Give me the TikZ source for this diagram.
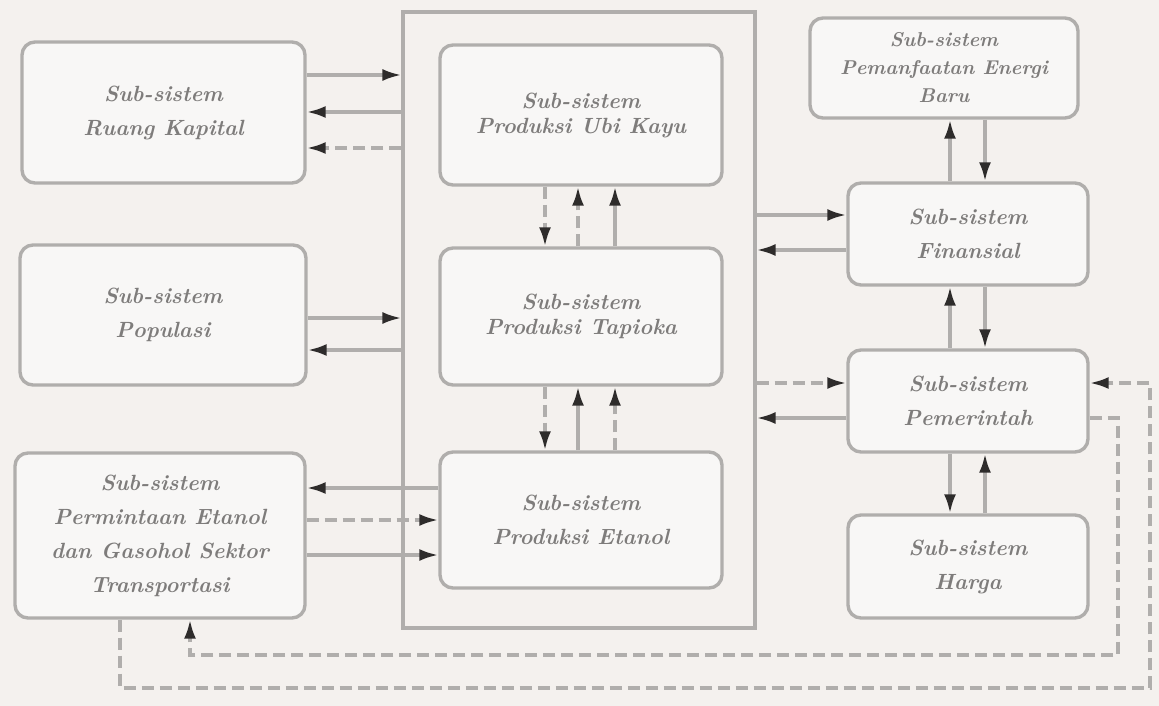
\documentclass[tikz,border=0pt]{standalone}
\usetikzlibrary{arrows.meta,calc}
\definecolor{bg}{HTML}{F4F1EE}
\definecolor{boxfill}{HTML}{F8F7F6}
\definecolor{edge}{HTML}{B0AEAC}
\definecolor{txt}{HTML}{7E7C7B}
\definecolor{tip}{HTML}{2E2C2B}
\tikzset{
  sbox/.style={draw=edge, line width=3.4pt, rounded corners=13pt, fill=boxfill,
    text=txt, font=\fontsize{22}{34}\selectfont\bfseries\itshape, align=center, inner sep=2pt},
  tight/.style={font=\fontsize{22}{25}\selectfont\bfseries\itshape},
  cbox/.style={draw=edge, line width=3.2pt, fill=none},
  conn/.style={draw=edge, line width=3.2pt, -{Latex[length=19pt,width=12pt,color=tip]}},
  dconn/.style={conn, dash pattern=on 12pt off 6pt},
}
\begin{document}
\begin{tikzpicture}[x=1pt,y=-1pt]
\fill[bg] (0,0) rectangle (1159,706);
\useasboundingbox (0,0) rectangle (1159,706);

% container
\node[cbox, minimum width=352pt, minimum height=616pt] (cont) at (579,320) {};

% left boxes
\node[sbox, minimum width=283pt, minimum height=141pt] (rk) at (163.5,112.5) {Sub-sistem\\Ruang Kapital};
\node[sbox, minimum width=286pt, minimum height=140pt] (pop) at (163,315) {Sub-sistem\\Populasi};
\node[sbox, minimum width=290pt, minimum height=165pt] (perm) at (160,535.5) {Sub-sistem\\Permintaan Etanol\\dan Gasohol Sektor\\Transportasi};

% inner boxes
\node[sbox, tight, minimum width=282pt, minimum height=140pt] (uk) at (581,115) {Sub-sistem\\Produksi Ubi Kayu};
\node[sbox, tight, minimum width=282pt, minimum height=137pt] (tap) at (581,316.5) {Sub-sistem\\Produksi Tapioka};
\node[sbox, minimum width=282pt, minimum height=136pt] (et) at (581,520) {Sub-sistem\\Produksi Etanol};

% right boxes
\node[sbox, font=\fontsize{20}{28}\selectfont\bfseries\itshape, minimum width=268pt, minimum height=100pt] (eb) at (944,68) {Sub-sistem\\Pemanfaatan Energi\\Baru};
\node[sbox, minimum width=240pt, minimum height=102pt] (fin) at (968,234) {Sub-sistem\\Finansial};
\node[sbox, minimum width=240pt, minimum height=102pt] (pem) at (968,401) {Sub-sistem\\Pemerintah};
\node[sbox, minimum width=240pt, minimum height=103pt] (har) at (968,566.5) {Sub-sistem\\Harga};

% left side connectors
\draw[conn] (rk.east |- 0,75) -- (cont.west |- 0,75);
\draw[conn] (cont.west |- 0,112) -- (rk.east |- 0,112);
\draw[dconn] (cont.west |- 0,148) -- (rk.east |- 0,148);
\draw[conn] (pop.east |- 0,318) -- (cont.west |- 0,318);
\draw[conn] (cont.west |- 0,350) -- (pop.east |- 0,350);
\draw[conn] (et.west |- 0,488) -- (perm.east |- 0,488);
\draw[dconn] (perm.east |- 0,520) -- (et.west |- 0,520);
\draw[conn] (perm.east |- 0,555) -- (et.west |- 0,555);

% inner vertical connectors
\draw[dconn] (uk.south -| 545,0) -- (tap.north -| 545,0);
\draw[dconn] (tap.north -| 578,0) -- (uk.south -| 578,0);
\draw[conn] (tap.north -| 615,0) -- (uk.south -| 615,0);
\draw[dconn] (tap.south -| 545,0) -- (et.north -| 545,0);
\draw[conn] (et.north -| 578,0) -- (tap.south -| 578,0);
\draw[dconn] (et.north -| 615,0) -- (tap.south -| 615,0);

% container to right boxes
\draw[conn] (cont.east |- 0,215) -- (fin.west |- 0,215);
\draw[conn] (fin.west |- 0,250) -- (cont.east |- 0,250);
\draw[dconn] (cont.east |- 0,383) -- (pem.west |- 0,383);
\draw[conn] (pem.west |- 0,418) -- (cont.east |- 0,418);

% right vertical connectors
\draw[conn] (fin.north -| 950,0) -- (eb.south -| 950,0);
\draw[conn] (eb.south -| 985,0) -- (fin.north -| 985,0);
\draw[conn] (pem.north -| 950,0) -- (fin.south -| 950,0);
\draw[conn] (fin.south -| 985,0) -- (pem.north -| 985,0);
\draw[conn] (pem.south -| 950,0) -- (har.north -| 950,0);
\draw[conn] (har.north -| 985,0) -- (pem.south -| 985,0);

% feedback loops
\coordinate (la1) at (1118,418);
\coordinate (la2) at (1118,655);
\coordinate (la3) at (190,655);
\draw[dconn] (pem.east |- la1) -- (la1) -- (la2) -- (la3) -- (perm.south -| la3);
\coordinate (lb1) at (120,688);
\coordinate (lb2) at (1150,688);
\coordinate (lb3) at (1150,383);
\draw[dconn] (perm.south -| lb1) -- (lb1) -- (lb2) -- (lb3) -- (pem.east |- lb3);
\end{tikzpicture}
\end{document}
